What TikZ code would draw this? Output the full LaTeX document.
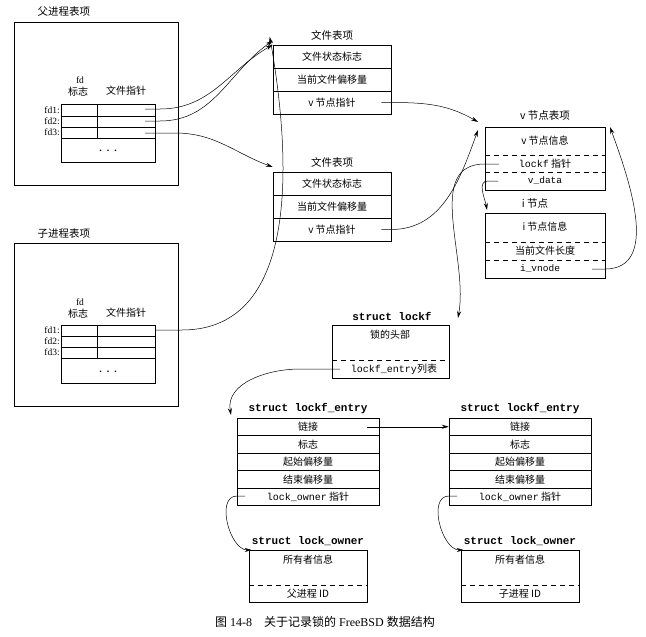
\documentclass[tikz,border=0pt]{standalone}
\usepackage{fontspec}
\setmainfont{Liberation Serif}
\setmonofont{Liberation Mono}
\newfontfamily\cjk{Noto Sans CJK SC}
\usetikzlibrary{arrows.meta}
\begin{document}
\begin{tikzpicture}[x=1pt,y=-1pt,
  box/.style={draw,line width=0.5pt},
  row/.style={draw,line width=0.5pt,inner sep=0pt,font=\cjk\fontsize{10}{10}\selectfont},
  txt/.style={inner sep=0pt,font=\cjk\fontsize{10}{10}\selectfont},
  ttl/.style={inner sep=0pt,font=\cjk\fontsize{10.5}{10.5}\selectfont},
  stl/.style={inner sep=0pt,font=\ttfamily\bfseries\fontsize{11}{11}\selectfont},
  fdl/.style={inner sep=0pt,anchor=east,font=\fontsize{9.5}{9.5}\selectfont},
  dsh/.style={dashed,line width=0.5pt,dash pattern=on 5pt off 4pt},
  ptr/.style={-{Stealth[length=7pt,width=4pt]},line width=0.5pt}]
\useasboundingbox (0,0) rectangle (646,637);

% ---- parent process entry
\node[ttl] (ptitle) at (64,12) {父进程表项};
\draw[box] (14,22) rectangle (178,185);
\node[txt,font=\fontsize{9.5}{9.5}\selectfont] (pfd) at (80,80) {fd};
\node[txt] (pflag) at (78,92) {标志};
\node[txt] (pptr) at (126,91) {文件指针};
\draw[box] (61,104) rectangle (155,162);
\draw[box] (61,116) -- (155,116) (61,127) -- (155,127) (61,138) -- (155,138) (97,104) -- (97,138);
\node[fdl] (pfd1) at (60,110) {fd1:};
\node[fdl] (pfd2) at (60,121.5) {fd2:};
\node[fdl] (pfd3) at (60,132.5) {fd3:};
\node[txt,font=\bfseries] (pdots) at (108,151) {.\ \ .\ \ .};
\coordinate (p1) at (145,109);
\coordinate (p2) at (145,121);
\coordinate (p3) at (145,133);

% ---- child process entry
\node[ttl] (ctitle) at (64,234) {子进程表项};
\draw[box] (14,243) rectangle (178,406);
\node[txt,font=\fontsize{9.5}{9.5}\selectfont] (cfd) at (80,302) {fd};
\node[txt] (cflag) at (78,314) {标志};
\node[txt] (cptr) at (126,313) {文件指针};
\draw[box] (61,325) rectangle (155,383);
\draw[box] (61,336) -- (155,336) (61,347) -- (155,347) (61,358) -- (155,358) (97,325) -- (97,358);
\node[fdl] (cfd1) at (60,330.5) {fd1:};
\node[fdl] (cfd2) at (60,341.5) {fd2:};
\node[fdl] (cfd3) at (60,352.5) {fd3:};
\node[txt,font=\bfseries] (cdots) at (108,372) {.\ \ .\ \ .};
\coordinate (c1) at (155,330);

% ---- file tables
\node[ttl] (f1t) at (332,35) {文件表项};
\node[row,minimum width=118,minimum height=23] (f1a) at (332,56.5) {文件状态标志};
\node[row,minimum width=118,minimum height=23] (f1b) at (332,79.5) {当前文件偏移量};
\node[row,minimum width=118,minimum height=23] (f1c) at (332,102.5) {v 节点指针};
\node[ttl] (f2t) at (332,162) {文件表项};
\node[row,minimum width=118,minimum height=23] (f2a) at (332,183.5) {文件状态标志};
\node[row,minimum width=118,minimum height=23] (f2b) at (332,206.5) {当前文件偏移量};
\node[row,minimum width=118,minimum height=23] (f2c) at (332,229.5) {v 节点指针};

% ---- v-node
\node[ttl] (vt) at (545,116) {v 节点表项};
\draw[box] (485,127) rectangle (605,190);
\draw[dsh] (485,155) -- (605,155) (485,172) -- (605,172);
\node[txt] (vinfo) at (545,141) {v 节点信息};
\node[txt] (vlock) at (545,164) {{\ttfamily lockf} 指针};
\node[txt,font=\ttfamily\fontsize{9.5}{9.5}\selectfont] (vdata) at (545,181) {v\_data};

% ---- i-node
\node[ttl] (it) at (535,204) {i 节点};
\draw[box] (485,213) rectangle (605,278);
\draw[dsh] (485,242) -- (605,242) (485,260) -- (605,260);
\node[txt] (iinfo) at (545,227) {i 节点信息};
\node[txt] (ilen) at (545,251) {当前文件长度};
\node[txt,font=\ttfamily\fontsize{9.5}{9.5}\selectfont] (ivn) at (540,269) {i\_vnode};

% ---- struct lockf
\node[stl] (lt) at (392,316) {struct lockf};
\draw[box] (332,325) rectangle (449,378);
\draw[dsh] (332,360) -- (449,360);
\node[txt] (lhead) at (390,335) {锁的头部};
\node[txt] (llist) at (394,369) {{\ttfamily lockf\_entry}列表};

% ---- lockf entries
\foreach \n/\x in {e1/308,e2/520}{
  \node[stl] (\n t) at (\x,409) {struct lockf\_entry};
  \node[row,minimum width=142,minimum height=17.5] (\n a) at (\x,426.75) {链接};
  \node[row,minimum width=142,minimum height=17.5] (\n b) at (\x,444.25) {标志};
  \node[row,minimum width=142,minimum height=17.5] (\n c) at (\x,461.75) {起始偏移量};
  \node[row,minimum width=142,minimum height=17.5] (\n d) at (\x,479.25) {结束偏移量};
  \node[row,minimum width=142,minimum height=17.5] (\n e) at (\x,496.75) {{\ttfamily lock\_owner} 指针};
}

% ---- lock owners
\foreach \n/\x/\who in {o1/308/父进程 ID,o2/520/子进程 ID}{
  \node[stl] (\n t) at (\x,541) {struct lock\_owner};
  \draw[box] (\x-59,550) rectangle (\x+59,602);
  \draw[dsh] (\x-59,585) -- (\x+59,585);
  \node[txt] (\n a) at (\x,560) {所有者信息};
  \node[txt] (\n b) at (\x,594) {\who};
}

% ---- caption
\node[inner sep=0pt,font=\fontsize{12}{12}\selectfont] (cap) at (325,622) {{\cjk 图} 14-8\quad{\cjk 关于记录锁的} FreeBSD {\cjk 数据结构}};

% ---- connectors
\draw[ptr] (p1) -- (160,109) to[out=0,in=-150] (f1a.north west);
\draw[ptr] (p2) -- (160,121) to[out=0,in=-145] ([yshift=4]f1a.north west);
\draw[ptr] (p3) -- (175,133) to[out=0,in=160] ([yshift=-5]f2t.west -| f2a.west);
\draw[ptr] (c1) -- (182,330) to[out=0,in=-80] ([xshift=-3,yshift=8]f1a.north west);
\draw[ptr] ([xshift=-10]f1c.east) -- (f1c.east) to[out=0,in=150] ([xshift=-7,yshift=-6]vt.west -| 485,0);
\draw[ptr] ([xshift=-10]f2c.east) -- (f2c.east) to[out=0,in=-110] (478,130);
\draw[ptr] (499,164) -- (485,164) to[out=180,in=80] (458,318);
\draw[ptr] (498,181) -- (488,181) to[out=180,in=100] (487,210);
\draw[ptr] (592,269) -- (605,269) to[out=0,in=-70] (610,127);
\draw[ptr] (340,369) -- (300,369) to[out=180,in=100] (231,415);
\draw[ptr] ([xshift=-12]e1a.east) -- (e2a.west);
\draw[ptr] (245,496) -- (237,496) to[out=180,in=180] (o1t.south west |- 0,550);
\draw[ptr] (457,496) -- (449,496) to[out=180,in=180] (o2t.south west |- 0,550);
\end{tikzpicture}
\end{document}
